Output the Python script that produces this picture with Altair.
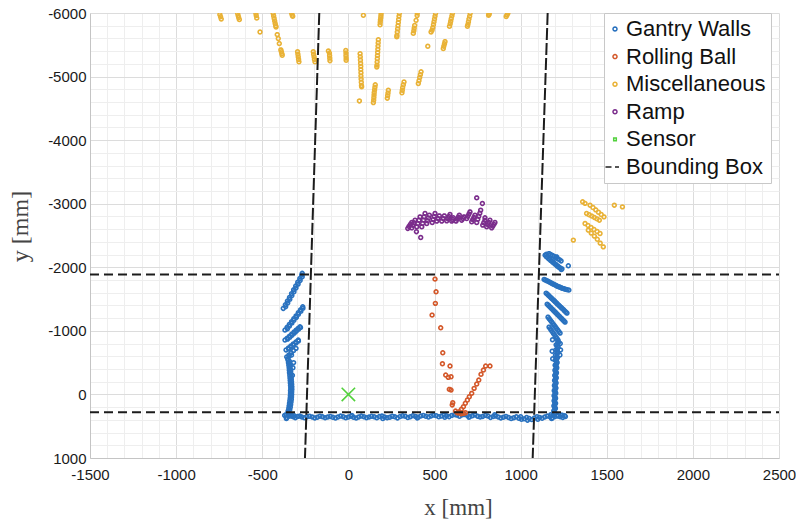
import math
import altair as alt
import pandas as pd

# ---------------- LiDAR returns, in mm ----------------
# Gantry floor strip (two interleaved scan rows)
gantry_floor = [
    (-370, 330), (-345, 345), (-320, 352), (-295, 348), (-270, 356), (-240, 350),
    (-210, 354), (-180, 358), (-150, 352), (-120, 356), (-90, 360), (-60, 354),
    (-30, 350), (0, 356), (30, 360), (60, 354), (90, 350), (120, 356), (150, 352),
    (180, 348), (210, 354), (240, 360), (270, 352), (300, 348), (330, 344),
    (360, 350), (390, 346), (420, 340), (450, 344), (480, 338), (510, 334),
    (540, 340), (570, 336), (600, 330), (630, 326), (660, 322), (690, 330),
    (720, 336), (750, 342), (780, 346), (810, 340), (840, 348), (870, 354),
    (900, 358), (930, 362), (960, 368), (990, 376), (1020, 384), (1050, 378),
    (1080, 370), (1110, 362), (1140, 356), (1170, 350), (1200, 346), (1230, 352),
    (1260, 348),
    (-360, 380), (20, 330), (200, 380), (400, 370), (560, 360), (700, 360),
    (850, 320), (1000, 350), (1040, 405), (1100, 390), (1180, 380), (1240, 325),
]
gantry_floor_b = [
    (-358, 362), (-332, 338), (-308, 366), (-282, 340), (-255, 368), (-225, 344),
    (-195, 370), (-165, 342), (-135, 366), (-105, 346), (-75, 372), (-45, 340),
    (-15, 368), (15, 344), (45, 372), (75, 340), (105, 366), (135, 344), (165, 368),
    (195, 338), (225, 366), (255, 342), (285, 370), (315, 336), (345, 364),
    (375, 334), (405, 360), (435, 330), (465, 356), (495, 326), (525, 352),
    (555, 322), (585, 350), (615, 318), (645, 344), (675, 316), (705, 348),
    (735, 322), (765, 356), (795, 330), (825, 362), (855, 338), (885, 370),
    (915, 346), (945, 380), (975, 352), (1005, 392), (1035, 362), (1065, 396),
    (1095, 350), (1125, 374), (1155, 340), (1185, 368), (1215, 332), (1245, 362),
]

# Left gantry wall
gantry_left = [
    (-362, 320), (-330, 330), (-315, 335),
    (-348, 300), (-350, 260), (-346, 220), (-344, 180), (-342, 140), (-340, 100),
    (-338, 60), (-337, 20), (-336, -20), (-336, -60), (-335, -100), (-336, -140),
    (-337, -180), (-338, -220), (-339, -260), (-340, -300), (-342, -340),
    (-343, -380), (-344, -420), (-346, -460), (-348, -500), (-350, -540),
    (-325, -300), (-322, -420), (-318, -500),
    (-358, -590), (-345, -622), (-332, -655), (-318, -690), (-304, -724),
    (-362, -700), (-348, -730), (-334, -762), (-320, -793), (-305, -824), (-291, -855),
    (-368, -855), (-355, -885), (-342, -916), (-329, -948), (-316, -980),
    (-304, -1010), (-292, -1038), (-281, -1064),
    (-368, -1012), (-356, -1055), (-343, -1100), (-330, -1145), (-317, -1190),
    (-304, -1235), (-291, -1285), (-278, -1330), (-265, -1378),
    (-378, -1353), (-366, -1410), (-354, -1468), (-342, -1525), (-330, -1585),
    (-318, -1645), (-306, -1705), (-294, -1765), (-282, -1822), (-271, -1877),
    (-268, -1905),
]
gantry_left_b = [
    (-364, -1381), (-352, -1439), (-340, -1496), (-328, -1555), (-316, -1615),
    (-304, -1675), (-292, -1735), (-280, -1793), (-268, -1850),
    (-354, -1033), (-342, -1077), (-328, -1122), (-316, -1167), (-302, -1212),
    (-290, -1260), (-276, -1307), (-264, -1354),
    (-353, -870), (-340, -900), (-327, -932), (-314, -964), (-302, -995),
    (-290, -1024), (-278, -1051),
    (-347, -715), (-333, -746), (-319, -777), (-304, -808), (-290, -840),
    (-349, 280), (-340, 240), (-337, 200), (-335, 160), (-333, 120), (-331, 80),
    (-330, 40), (-329, 0), (-329, -40), (-328, -80), (-328, -120), (-329, -160),
    (-330, -200), (-331, -240), (-332, -280), (-334, -320), (-335, -360),
    (-337, -400), (-338, -440), (-340, -480), (-342, -520), (-352, -560),
    (-344, -600), (-330, -620),
]

# Right gantry wall
gantry_right = [
    (1175, 320), (1215, 340), (1235, 330), (1255, 335),
    (1188, 330), (1200, 300), (1192, 260), (1202, 220), (1193, 180), (1203, 140),
    (1194, 100), (1203, 60), (1194, 20), (1204, -20), (1195, -60), (1205, -100),
    (1196, -140), (1206, -180), (1197, -220), (1207, -260), (1198, -300),
    (1208, -340), (1199, -380), (1210, -420), (1200, -460), (1212, -500),
    (1201, -540), (1214, -580), (1202, -620), (1216, -660), (1204, -700),
    (1218, -740), (1206, -780), (1220, -820),
    (1185, -860), (1230, -800), (1232, -700), (1183, -680), (1228, -620), (1186, -560),
    (1165, -1059), (1178, -1008), (1191, -957), (1204, -906), (1217, -855),
    (1159, -1216), (1173, -1166), (1187, -1115), (1201, -1065), (1215, -1014), (1229, -964),
    (1154, -1420), (1167, -1385), (1180, -1350), (1193, -1314), (1206, -1279),
    (1219, -1243), (1232, -1208), (1245, -1172), (1258, -1137),
    (1148, -1593), (1161, -1560), (1174, -1526), (1188, -1491), (1201, -1456),
    (1214, -1421), (1228, -1386), (1242, -1350), (1255, -1315), (1269, -1279),
    (1136, -1809), (1151, -1790), (1167, -1768), (1182, -1746), (1198, -1724),
    (1213, -1702), (1229, -1685), (1244, -1668), (1260, -1655), (1280, -1641),
    (1142, -2190), (1155, -2160), (1168, -2130), (1180, -2100), (1192, -2075),
    (1205, -2045), (1218, -2015), (1230, -1990), (1240, -1975),
    (1165, -2215), (1185, -2185), (1205, -2150), (1225, -2120),
    (1209, -2164), (1277, -2023),
]
gantry_right_b = [
    (1150, -2165), (1162, -2135), (1175, -2105), (1187, -2078), (1199, -2050),
    (1212, -2020), (1224, -1995), (1236, -1965),
    (1150, -2205), (1175, -2200), (1195, -2170), (1215, -2135), (1235, -2100),
    (1144, -1800), (1159, -1779), (1175, -1757), (1190, -1735), (1206, -1713),
    (1221, -1694), (1237, -1676), (1252, -1661), (1270, -1648),
    (1155, -1577), (1168, -1543), (1181, -1509), (1195, -1474), (1208, -1439),
    (1221, -1404), (1235, -1368), (1249, -1333), (1262, -1297),
    (1161, -1403), (1174, -1368), (1187, -1332), (1200, -1297), (1213, -1261),
    (1226, -1226), (1239, -1190), (1252, -1155),
    (1166, -1191), (1180, -1141), (1194, -1090), (1208, -1040), (1222, -989),
    (1172, -1034), (1185, -983), (1198, -932), (1211, -881),
    (1196, 310), (1197, 240), (1198, 200), (1198, 160), (1198, 120), (1198, 80),
    (1199, 40), (1199, 0), (1200, -40), (1200, -80), (1201, -120), (1201, -160),
    (1202, -200), (1202, -240), (1203, -280), (1204, -320), (1204, -360),
    (1205, -400), (1206, -440), (1207, -480), (1208, -520), (1209, -560),
    (1210, -600), (1211, -640), (1212, -680), (1213, -720), (1214, -760),
    (1215, -800), (1216, -840),
]

# Rolling ball track
rolling_ball = [
    (503, -1814), (509, -1614), (505, -1432), (486, -1248), (536, -1048),
    (548, -655), (546, -482), (590, -446), (565, -305), (580, -268), (596, -278),
    (586, -80), (596, -69), (606, 131), (603, 165),
    (622, 262), (640, 290), (655, 305), (668, 298), (680, 288),
    (822, -446), (797, -446), (784, -383), (770, -316), (757, -226), (745, -163),
    (730, -95), (716, -17), (702, 37), (691, 88), (679, 140), (668, 193),
    (656, 234), (644, 272), (633, 288),
]

# Ramp
ramp = [
    (345, -2611), (352, -2643), (360, -2675), (368, -2705),
    (368, -2620), (374, -2660), (381, -2700), (387, -2741),
    (397, -2636), (403, -2688), (410, -2740), (416, -2793),
    (426, -2636), (431, -2690), (436, -2742), (440, -2795), (445, -2847),
    (455, -2689), (460, -2732), (465, -2776), (470, -2820),
    (487, -2705), (492, -2752), (498, -2800), (503, -2847),
    (513, -2726), (520, -2767), (528, -2809),
    (542, -2726), (550, -2767), (557, -2809),
    (571, -2730), (577, -2765), (584, -2798), (590, -2831),
    (600, -2726), (605, -2752), (609, -2778),
    (625, -2726), (631, -2757), (638, -2789), (644, -2820),
    (658, -2741), (665, -2767), (671, -2793),
    (687, -2768), (693, -2803), (700, -2838), (706, -2872),
    (716, -2715), (722, -2750), (729, -2785), (735, -2820),
    (745, -2705), (751, -2755), (757, -2803), (763, -2851), (768, -2899),
    (780, -2663), (786, -2700), (793, -2740), (793, -2778),
    (803, -2636), (810, -2670), (816, -2705), (822, -2741),
    (832, -2620), (838, -2648), (845, -2676), (851, -2705),
    (745, -3092), (778, -3004), (420, -2469), (395, -2560),
]

# Miscellaneous returns beyond the far end
misc_top = [
    (-746, -5975), (-742, -5940), (-738, -5905),
    (-643, -5995), (-640, -5960), (-637, -5928), (-633, -5896),
    (-537, -5995), (-535, -5960), (-532, -5920),
    (-437, -5995), (-434, -5955), (-431, -5915), (-428, -5875), (-425, -5835), (-422, -5800),
    (-420, -5780), (-413, -5660), (-407, -5598), (-401, -5519),
    (-392, -5420), (-389, -5390), (-386, -5360), (-384, -5335),
    (-329, -5995), (-326, -5965), (-323, -5948),
    (-513, -5701),
    (-295, -5390), (-293, -5350), (-291, -5310), (-289, -5270), (-287, -5232),
    (-204, -5390), (-202, -5350), (-199, -5310), (-197, -5270), (-194, -5232),
    (-116, -5403), (-110, -5370), (-109, -5330), (-108, -5290), (-107, -5250),
    (-15, -5410), (-14, -5370), (-14, -5330), (-13, -5290), (-13, -5256),
    (68, -5360), (69, -5310), (70, -5260), (71, -5210), (72, -5160), (72, -5110),
    (73, -5060), (73, -5010), (74, -4960), (75, -4910), (76, -4860), (77, -4840),
    (64, -4617), (87, -5964),
    (156, -4870), (154, -4830), (152, -4790), (150, -4750), (149, -4710),
    (148, -4670), (147, -4630), (145, -4590),
    (174, -5580), (173, -5530), (172, -5480), (171, -5430), (170, -5380),
    (169, -5330), (168, -5280), (167, -5230), (166, -5180), (165, -5150),
    (190, -5995), (189, -5960), (188, -5925), (186, -5890), (185, -5855), (184, -5815),
    (232, -4785), (230, -4740), (228, -4700), (226, -4660),
    (296, -5995), (294, -5950), (292, -5900), (290, -5850), (288, -5800),
    (286, -5750), (284, -5700), (282, -5650), (281, -5625),
    (400, -6000), (399, -5960), (393, -5885), (385, -5805), (382, -5760),
    (380, -5720), (377, -5680),
    (506, -5995), (503, -5950), (500, -5905), (497, -5860), (494, -5815),
    (490, -5770), (486, -5730), (480, -5701),
    (604, -5995), (601, -5955), (597, -5910), (594, -5870), (591, -5830), (587, -5790),
    (707, -5995), (704, -5950), (700, -5905), (697, -5860), (694, -5820), (691, -5791),
    (818, -5995), (816, -5975), (814, -5965),
    (926, -5995), (921, -5968), (916, -5945),
    (461, -5477),
    (561, -5550), (558, -5515), (554, -5478), (551, -5440),
    (422, -5075), (418, -5030), (414, -4985), (410, -4935), (406, -4890),
    (323, -4915), (319, -4870), (315, -4825), (313, -4785), (311, -4745),
]

# Miscellaneous returns right of the gantry
misc_right = [
    (1360, -3030), (1374, -3005),
    (1403, -2977), (1420, -2940), (1436, -2903), (1452, -2866), (1468, -2830), (1484, -2793),
    (1383, -2847), (1398, -2826), (1413, -2805), (1428, -2784), (1443, -2762), (1457, -2741),
    (1374, -2689), (1391, -2658), (1409, -2626), (1426, -2595), (1444, -2563), (1461, -2532),
    (1393, -2584), (1410, -2537), (1428, -2490), (1445, -2440), (1462, -2380), (1480, -2321),
    (1306, -2427), (1544, -2977), (1591, -2950),
]

sensor_pos = [(0, 0)]

# Bounding box edges: (x, y, x2, y2)
bbox_vertical = [(-169, -6000, -252, 1000), (1157, -6000, 1070, 1000)]
bbox_horizontal = [(-1500, -1888, 2500, -1888), (-1500, 282, 2500, 282)]

x_ticks = list(range(-1500, 2501, 100))
y_ticks = list(range(-6000, 1001, 200))

CATEGORIES = ["Gantry Walls", "Rolling Ball", "Miscellaneous", "Ramp", "Sensor", "Bounding Box"]
PALETTE = ["#2a72bf", "#d4582a", "#e9b236", "#7b2d8c", "#52d13c", "#1e1e1e"]


def ring(r, n=16):
    """Closed polygon approximating a circle in the [-1, 1] symbol space."""
    pts = [(r * math.cos(2 * math.pi * k / n), r * math.sin(2 * math.pi * k / n)) for k in range(n)]
    return "M" + "L".join(f"{px:.3f},{py:.3f}" for px, py in pts) + "Z"


DOT = ring(0.2)
SQUARE = "M-0.13,-0.13H0.13V0.13H-0.13Z"
DASH = "M-0.95,0H-0.35M0,0H0.4"
CROSS = "M-1,-1L1,1M1,-1L-1,1"
SHAPES = [DOT, DOT, DOT, DOT, SQUARE, DASH]

rows = []
for name, pts in [
    ("Gantry Walls", gantry_floor + gantry_floor_b + gantry_left + gantry_left_b
     + gantry_right + gantry_right_b),
    ("Rolling Ball", rolling_ball),
    ("Miscellaneous", misc_top + misc_right),
    ("Ramp", ramp),
]:
    rows += [(x, y, name) for x, y in pts]
cloud = pd.DataFrame(rows, columns=["x", "y", "cat"])
sensor = pd.DataFrame(sensor_pos, columns=["x", "y"])
bb_v = pd.DataFrame(bbox_vertical, columns=["x", "y", "x2", "y2"])
bb_h = pd.DataFrame(bbox_horizontal, columns=["x", "y", "x2", "y2"])

grid_color = {"condition": {"test": "datum.value % 500 === 0", "value": "#dcdcdc"}, "value": "#eeeeee"}
grid_color_y = {"condition": {"test": "datum.value % 1000 === 0", "value": "#dcdcdc"}, "value": "#eeeeee"}

x_axis = alt.Axis(
    values=x_ticks,
    labelExpr="datum.value % 500 === 0 ? '' + datum.value : ''",
    labelOverlap=False, labelFlush=False,
    labelFont="Liberation Sans", labelFontSize=15, labelColor="#1a1a1a", labelPadding=9,
    ticks=False, domainColor="#c4c4c4",
    grid=True, gridColor=grid_color,
    title="x [mm]", titleFont="Liberation Serif", titleFontSize=23, titleFontWeight="normal",
    titleColor="#444444", titleX=368, titleY=56, titleBaseline="alphabetic", titleAlign="center",
)
y_axis = alt.Axis(
    values=y_ticks,
    labelExpr="datum.value % 1000 === 0 ? '' + datum.value : ''",
    labelOverlap=False, labelFlush=False,
    labelFont="Liberation Sans", labelFontSize=15, labelColor="#1a1a1a", labelPadding=4,
    ticks=False, domainColor="#c4c4c4",
    grid=True, gridColor=grid_color_y,
    title="y [mm]", titleFont="Liberation Serif", titleFontSize=24, titleFontWeight="normal",
    titleColor="#444444", titleAngle=270, titleX=-63, titleY=213,
    titleBaseline="alphabetic", titleAlign="center",
)

X_ENC = alt.X("x:Q", scale=alt.Scale(domain=[-1500, 2500], nice=False, zero=False), axis=x_axis)
Y_ENC = alt.Y("y:Q", scale=alt.Scale(domain=[-6000, 1000], nice=False, zero=False, reverse=True), axis=y_axis)

legend = alt.Legend(
    title=None, orient="none", legendX=514, legendY=0,
    labelFont="Liberation Sans", labelFontSize=22, labelColor="#111111",
    symbolSize=400, symbolStrokeWidth=1.5, symbolOffset=-5, labelOffset=0,
    padding=5, rowPadding=5.6, strokeColor="#c8c8c8", fillColor="white",
)

points = alt.Chart(cloud).mark_point(
    filled=False, size=360, strokeWidth=1.6, opacity=1, clip=True
).encode(
    x=X_ENC,
    y=Y_ENC,
    color=alt.Color("cat:N", scale=alt.Scale(domain=CATEGORIES, range=PALETTE), legend=legend),
    shape=alt.Shape("cat:N", scale=alt.Scale(domain=CATEGORIES, range=SHAPES), legend=legend),
)

sensor_mark = alt.Chart(sensor).mark_point(
    shape=CROSS, size=180, strokeWidth=1.6, color=PALETTE[4], filled=False, opacity=1
).encode(x=X_ENC, y=Y_ENC)

vert = alt.Chart(bb_v).mark_rule(
    color="#1c1c1c", strokeWidth=2, strokeDash=[12, 3], clip=True
).encode(x=X_ENC, y=Y_ENC, x2=alt.X2("x2"), y2=alt.Y2("y2"))

horiz = alt.Chart(bb_h).mark_rule(
    color="#1c1c1c", strokeWidth=2, strokeDash=[9, 5], clip=True
).encode(x=X_ENC, y=Y_ENC, x2=alt.X2("x2"), y2=alt.Y2("y2"))

chart = alt.layer(points, sensor_mark, vert, horiz).properties(
    width=689,
    height=445,
    autosize=alt.AutoSizeParams(type="none"),
    padding={"left": 90, "top": 13, "right": 17, "bottom": 69},
    background="white",
).configure_view(stroke=None)

chart.save("out.html", embed_options={"renderer": "svg", "actions": False})
